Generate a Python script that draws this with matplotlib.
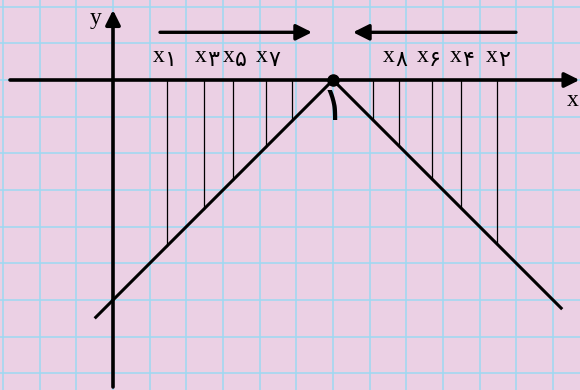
import matplotlib
matplotlib.use("Agg")
import matplotlib.pyplot as plt

# ---- data ----
peak_x = 6.0
left_line_x = [-0.5, 6.0]
right_line_x = [6.0, 12.25]
left_drop_x = [1.48, 2.49, 3.28, 4.18, 4.89]
right_drop_x = [7.08, 7.79, 8.69, 9.48, 10.48]
label_x = [1.25, 2.40, 3.16, 4.06, 7.53, 8.45, 9.35, 10.34]
label_sub = ["۱", "۳", "۵", "۷", "۸", "۶", "۴", "۲"]
peak_label = "۱"

def f(x):
    return -abs(x - peak_x)

u = 36.67
ox, oy = 113.0, 80.0
W, H = 580, 390

fig = plt.figure(figsize=(W / 100, H / 100), dpi=100)
ax = fig.add_axes([0, 0, 1, 1])
bg = "#EBD0E4"
fig.patch.set_facecolor(bg)
ax.set_facecolor(bg)
ax.set_xlim(-ox / u, (W - ox) / u)
ax.set_ylim(-(H - oy) / u, oy / u)
ax.axis("off")

gridc = "#9CD9F2"
for gx in range(-3, 13):
    ax.axvline(gx, color=gridc, lw=1.1, zorder=0)
for gy in range(-8, 3):
    ax.axhline(gy, color=gridc, lw=1.1, zorder=0)

# axes with arrows
ax.annotate("", xy=((W - 0.5 - ox) / u, 0), xytext=((10 - ox) / u, 0),
            arrowprops=dict(arrowstyle="-|>", lw=2.6, color="black",
                            mutation_scale=22, shrinkA=0, shrinkB=0), zorder=3)
ax.annotate("", xy=(0, (oy - 10) / u), xytext=(0, -(387 - oy) / u),
            arrowprops=dict(arrowstyle="-|>", lw=2.6, color="black",
                            mutation_scale=22, shrinkA=0, shrinkB=0), zorder=3)

# V lines
ax.plot(left_line_x, [f(x) for x in left_line_x], color="black", lw=2.2,
        solid_capstyle="butt", zorder=3)
ax.plot(right_line_x, [f(x) for x in right_line_x], color="black", lw=2.2,
        solid_capstyle="butt", zorder=3)

# drops
for x in left_drop_x + right_drop_x:
    ax.plot([x, x], [0, f(x)], color="black", lw=0.9, zorder=2)

ax.plot([peak_x], [0], "o", color="black", ms=8, zorder=4)

# direction arrows
ay = (oy - 32.3) / u
ax.annotate("", xy=((312 - ox) / u, ay), xytext=((160 - ox) / u, ay),
            arrowprops=dict(arrowstyle="-|>", lw=2.4, color="black",
                            mutation_scale=24, shrinkA=0, shrinkB=0))
ax.annotate("", xy=((353 - ox) / u, ay), xytext=((516 - ox) / u, ay),
            arrowprops=dict(arrowstyle="-|>", lw=2.4, color="black",
                            mutation_scale=24, shrinkA=0, shrinkB=0))

serif = ["Liberation Serif", "DejaVu Serif"]
arab = ["DejaVu Sans"]

for lx, sub in zip(label_x, label_sub):
    ax.text(lx, (oy - 62) / u, "x", fontsize=17, family=serif,
            ha="center", va="baseline")
    ax.text(lx + 6 / u, (oy - 66) / u, sub, fontsize=16, family=arab,
            ha="left", va="baseline")

ax.text(peak_x, (oy - 120) / u, peak_label, fontsize=34, family=arab,
        ha="center", va="baseline")

ax.text((573 - ox) / u, (oy - 106) / u, "x", fontsize=17, family=serif,
        ha="center", va="baseline")
ax.text((96 - ox) / u, (oy - 24) / u, "y", fontsize=17, family=serif,
        ha="center", va="baseline")

fig.savefig("out.png", dpi=100, facecolor=bg)
